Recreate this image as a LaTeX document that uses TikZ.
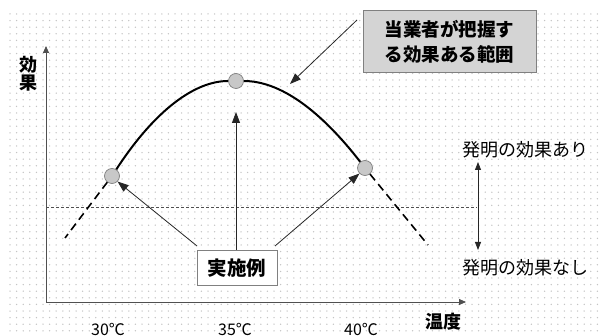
\documentclass[tikz,border=0pt]{standalone}
\usepackage{fontspec}
\setmainfont{Noto Sans CJK JP}
\usetikzlibrary{arrows.meta}
\definecolor{dotc}{HTML}{C4C4C4}
\definecolor{axc}{HTML}{505050}
\definecolor{ptfill}{HTML}{C8C8C8}
\definecolor{boxfill}{HTML}{D4D4D4}
\tikzset{
  axis/.style={draw=axc, line width=0.8pt, -{Triangle[length=7pt,width=6pt]}},
  pt/.style={circle, draw=gray, fill=ptfill, line width=0.7pt, minimum size=15pt, inner sep=0pt},
  curve/.style={line width=2pt, black},
  dashcurve/.style={line width=1.6pt, black, dash pattern=on 8pt off 5pt},
  ptr/.style={draw=black!85, line width=0.8pt, -{Triangle[length=11pt,width=8pt]}},
  lbl/.style={font=\fontsize{18}{20}\selectfont, inner sep=0pt},
  tlbl/.style={font=\fontsize{16}{18}\selectfont, inner sep=0pt},
  blbl/.style={font=\fontsize{18.5}{20}\selectfont\bfseries, inner sep=0pt},
}
\begin{document}
\begin{tikzpicture}[x=1pt,y=-1pt]
\useasboundingbox (0,0) rectangle (599,336);
\fill[white] (0,0) rectangle (599,336);
% dotted background
\foreach \i in {0,...,89}{
  \foreach \j in {0,...,48}{
    \fill[dotc] ({10+\i*6.6},{14+\j*6.6}) circle (0.75pt);
  }
}
% axes
\coordinate (O) at (46,302);
\coordinate (Ytop) at (46,46);
\coordinate (Xend) at (466,302);
\draw[axis] (O) -- (Ytop);
\draw[axis] (O) -- (Xend);
\node[blbl, align=center, font=\fontsize{18}{18}\selectfont\bfseries] (ylab) at (28,74) {効\\果};
\node[blbl, font=\fontsize{18}{20}\selectfont\bfseries] (xlab) at (443,322) {温度};
\node[tlbl] (t30) at (108,329) {30℃};
\node[tlbl] (t35) at (235,329) {35℃};
\node[tlbl] (t40) at (361,329) {40℃};
% threshold line
\coordinate (thl) at (46,207);
\coordinate (thr) at (477,207);
\draw[axc, line width=0.6pt, dash pattern=on 3pt off 2pt] (thl) -- (thr);
% curve
\node[pt] (pl) at (112,176) {};
\node[pt] (pm) at (236,81) {};
\node[pt] (pr) at (365,168) {};
\coordinate (dl) at (65,238);
\coordinate (dr) at (428,245);
\draw[curve] (pl) .. controls (155,110) and (195,81) .. (pm);
\draw[curve] (pm) .. controls (280,81) and (320,110) .. (pr);
\draw[dashcurve] (pl) -- (dl);
\draw[dashcurve] (pr) -- (dr);
% right labels
\node[lbl, anchor=west] (yes) at (462,150) {発明の効果あり};
\node[lbl, anchor=west] (no) at (462,268) {発明の効果なし};
\coordinate (vt) at (478,162);
\coordinate (vb) at (478,250);
\draw[draw=black!85, line width=0.8pt, {Triangle[length=8pt,width=6pt]}-{Triangle[length=8pt,width=6pt]}] (vt) -- (vb);
% range box
\node[draw=gray, line width=1pt, fill=boxfill, minimum width=173pt, minimum height=62pt, align=center, font=\fontsize{18.5}{25}\selectfont\bfseries, inner sep=0pt] (rng) at (449.5,42) {当業者が把握す\\る効果ある範囲};
\coordinate (rs) at (357,20);
\coordinate (rt) at (290,84);
\draw[ptr] (rs) -- (rt);
% examples box
\node[draw=gray, line width=1pt, fill=white, minimum width=80pt, minimum height=35pt, blbl, font=\fontsize{19.5}{20}\selectfont\bfseries] (ex) at (237,268) {実施例};
\draw[ptr] (197,246) -- (pl.south east);
\draw[ptr] (236,250) -- (236,112);
\draw[ptr] (275,246) -- (pr.south west);
\end{tikzpicture}
\end{document}
